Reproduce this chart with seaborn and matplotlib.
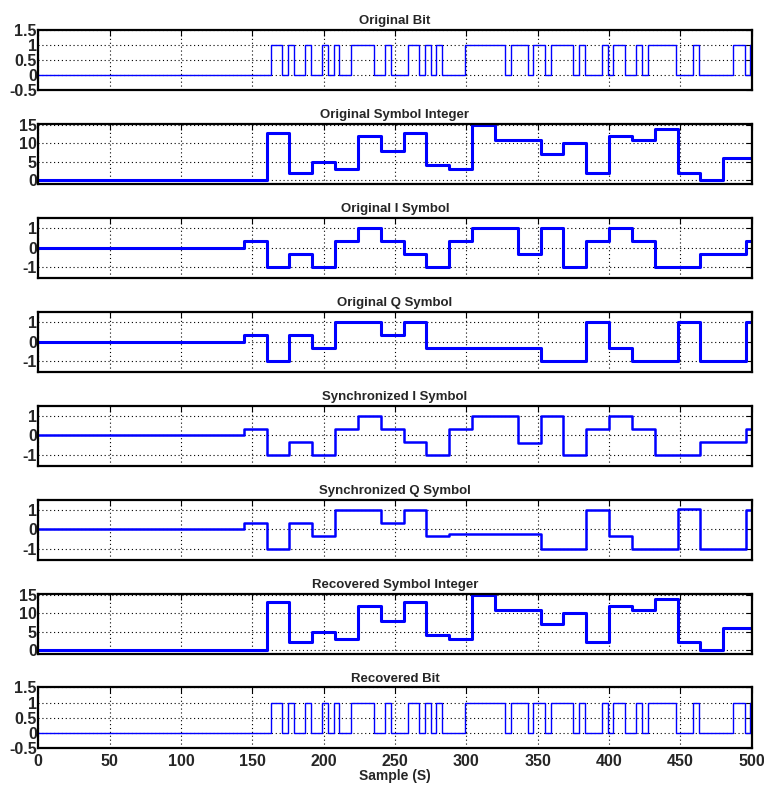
import numpy as np
import pandas as pd
import matplotlib
matplotlib.use("Agg")
import matplotlib.pyplot as plt
import seaborn as sns

# --- data --------------------------------------------------------------
x_end = 500

bit_start = 163
bit_width = 4
orig_bits = [1, 1, 0, 1, 0, 0, 1, 0, 0, 1, 0, 1, 0, 0, 1, 1,
             1, 1, 0, 0, 1, 0, 0, 0, 1, 1, 0, 1, 0, 1, 0, 0,
             0, 0, 1, 1, 1, 1, 1, 1, 1, 0, 1, 1, 1, 0, 1, 1,
             0, 1, 1, 1, 1, 0, 1, 0, 0, 0, 1, 0, 1, 1, 0, 0,
             1, 0, 1, 1, 1, 1, 1, 0, 0, 0, 1, 0, 0, 0, 0, 0,
             0, 1, 1, 0, 1]
recovered_bits = list(orig_bits)

sym_starts = [160, 176, 192, 208, 224, 240, 256, 272, 288, 304, 320,
              336, 352, 368, 384, 400, 416, 432, 448, 464, 480]
orig_sym_int = [13, 2, 5, 3, 12, 8, 13, 4, 3, 15, 11,
                11, 7, 10, 2, 12, 11, 14, 2, 0, 6]
recovered_sym_int = list(orig_sym_int)

iq_starts = [144, 160, 176, 192, 208, 224, 240, 256, 272, 288, 304, 320,
             336, 352, 368, 384, 400, 416, 432, 448, 464, 480, 496]
orig_i = [0.33, -1, -0.33, -1, 0.33, 1, 0.33, -0.33, -1, 0.33, 1, 1,
          -0.33, 1, -1, 0.33, 1, 0.33, -1, -1, -0.33, -0.33, 0.33]
orig_q = [0.33, -1, 0.33, -0.33, 1, 1, 0.33, 1, -0.33, -0.33, -0.33, -0.33,
          -0.33, -1, -1, 1, -0.33, -1, -1, 1, -1, -1, 1]
sync_i = [0.33, -1, -0.33, -1, 0.33, 1, 0.33, -0.33, -1, 0.33, 1, 1,
          -0.4, 1, -1, 0.33, 1, 0.33, -1, -1, -0.33, -0.33, 0.33]
sync_q = [0.33, -1, 0.33, -0.33, 1, 1, 0.33, 1, -0.33, -0.26, -0.26, -0.26,
          -0.26, -1, -1, 1, -0.33, -1, -1, 1.05, -1, -1, 1]

titles = ["Original Bit", "Original Symbol Integer", "Original I Symbol",
          "Original Q Symbol", "Synchronized I Symbol", "Synchronized Q Symbol",
          "Recovered Symbol Integer", "Recovered Bit"]


def step_frame(starts, values, lead=0.0):
    x = [0] + list(starts) + [x_end]
    y = [lead] + list(values) + [values[-1]]
    return pd.DataFrame({"sample": x, "value": y})


bit_starts = [bit_start + bit_width * k for k in range(len(orig_bits))]

panels = [
    (step_frame(bit_starts, orig_bits), 1.0, "bit"),
    (step_frame(sym_starts, orig_sym_int), 2.2, "int"),
    (step_frame(iq_starts, orig_i), 2.2, "iq"),
    (step_frame(iq_starts, orig_q), 2.2, "iq"),
    (step_frame(iq_starts, sync_i), 1.8, "iq"),
    (step_frame(iq_starts, sync_q), 1.8, "iq"),
    (step_frame(sym_starts, recovered_sym_int), 2.2, "int"),
    (step_frame(bit_starts, recovered_bits), 1.0, "bit"),
]

# --- figure -------------------------------------------------------------
sns.set_style("white")
plt.rcParams["font.family"] = ["Liberation Sans", "DejaVu Sans"]
plt.rcParams["font.weight"] = "bold"
plt.rcParams["axes.titleweight"] = "bold"
plt.rcParams["axes.labelweight"] = "bold"
plt.rcParams["axes.unicode_minus"] = False

fig, axes = plt.subplots(8, 1, figsize=(7.64, 7.85), dpi=100, sharex=True)
fig.subplots_adjust(left=0.05, right=0.984, top=0.962, bottom=0.047, hspace=0.55)

for ax, title, (df, lw, kind) in zip(axes, titles, panels):
    sns.lineplot(data=df, x="sample", y="value", drawstyle="steps-post",
                 color="#0000ff", linewidth=lw, ax=ax)
    ax.set_title(title, fontsize=9.5, pad=4)
    ax.set_xlim(0, 500)
    ax.set_xticks(np.arange(0, 501, 50))
    if kind == "bit":
        ax.set_ylim(-0.5, 1.5)
        ax.set_yticks([-0.5, 0, 0.5, 1, 1.5])
        ax.set_yticklabels(["-0.5", "0", "0.5", "1", "1.5"])
    elif kind == "int":
        ax.set_ylim(-1.2, 15.4)
        ax.set_yticks([0, 5, 10, 15])
    else:
        ax.set_ylim(-1.6, 1.55)
        ax.set_yticks([-1, 0, 1])
    ax.grid(True, color="black", linestyle=(0, (1, 2.5)), linewidth=0.8)
    ax.tick_params(direction="in", top=True, right=True, length=4,
                   labelsize=11.5, pad=1, color="black")
    for sp in ax.spines.values():
        sp.set_color("black")
        sp.set_linewidth(1.6)
    ax.set_xlabel("")
    ax.set_ylabel("")

axes[-1].tick_params(axis="x", pad=4)
axes[-1].set_xlabel("Sample (S)", fontsize=10, labelpad=0)

fig.savefig("out.png", dpi=100)
